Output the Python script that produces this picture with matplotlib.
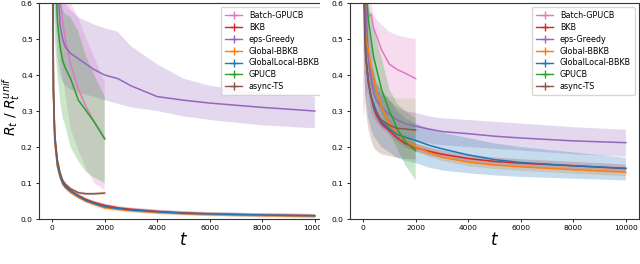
import matplotlib
matplotlib.use("Agg")
import matplotlib.pyplot as plt
from matplotlib.lines import Line2D
from matplotlib.patches import Rectangle


# time grids (x axis)
T_LONG = [0, 50, 100, 200, 300, 400, 500, 700, 1000, 1300, 1600, 2000,
          2500, 3000, 4000, 5000, 6000, 8000, 10000]
T_SHORT = [0, 50, 100, 200, 300, 400, 500, 700, 1000, 1300, 1600, 2000]

LABELS = ["Batch-GPUCB", "BKB", "eps-Greedy", "Global-BBKB",
          "GlobalLocal-BBKB", "GPUCB", "async-TS"]
COLORS = ["tab:pink", "tab:red", "tab:purple", "tab:orange",
          "tab:blue", "tab:green", "tab:brown"]

# ---- left panel: mean, lower, upper ----
L_BATCH = [1.5, 1.1, 0.9, 0.72, 0.62, 0.55, 0.5, 0.43, 0.36, 0.31, 0.27, 0.225]
L_BATCH_LO = [1.2, 0.8, 0.65, 0.55, 0.45, 0.4, 0.35, 0.25, 0.19, 0.14, 0.1, 0.08]
L_BATCH_HI = [1.8, 1.3, 1.1, 0.8, 0.7, 0.65, 0.62, 0.6, 0.56, 0.5, 0.45, 0.38]

L_BKB = [1.0, 0.36, 0.23, 0.155, 0.123, 0.103, 0.092, 0.079, 0.065, 0.054, 0.046,
         0.038, 0.031, 0.027, 0.021, 0.017, 0.014, 0.011, 0.009]
L_GLOBAL = [1.0, 0.34, 0.215, 0.145, 0.116, 0.097, 0.087, 0.074, 0.06, 0.049, 0.041,
            0.031, 0.027, 0.023, 0.018, 0.015, 0.013, 0.01, 0.008]
L_GLOCAL = [1.0, 0.35, 0.22, 0.15, 0.12, 0.1, 0.09, 0.077, 0.063, 0.051, 0.043,
            0.034, 0.029, 0.025, 0.02, 0.016, 0.014, 0.011, 0.009]

L_EPS = [2.0, 1.3, 0.95, 0.68, 0.54, 0.5, 0.478, 0.46, 0.445, 0.43, 0.415, 0.4,
         0.39, 0.37, 0.34, 0.33, 0.322, 0.31, 0.3]
L_EPS_LO = [1.8, 0.9, 0.6, 0.45, 0.4, 0.38, 0.37, 0.36, 0.35, 0.345, 0.34, 0.33,
            0.32, 0.31, 0.3, 0.285, 0.275, 0.26, 0.252]
L_EPS_HI = [2.2, 1.5, 1.1, 0.8, 0.68, 0.62, 0.6, 0.58, 0.56, 0.55, 0.54, 0.53,
            0.52, 0.48, 0.43, 0.39, 0.37, 0.35, 0.34]

L_GPUCB = [1.5, 1.0, 0.75, 0.55, 0.48, 0.44, 0.42, 0.39, 0.33, 0.3, 0.27, 0.222]
L_GPUCB_LO = [1.0, 0.7, 0.5, 0.4, 0.33, 0.28, 0.26, 0.2, 0.16, 0.13, 0.115, 0.1]
L_GPUCB_HI = [1.8, 1.3, 1.0, 0.7, 0.62, 0.58, 0.57, 0.56, 0.52, 0.45, 0.4, 0.34]

L_TS = [1.0, 0.36, 0.235, 0.165, 0.13, 0.108, 0.097, 0.084, 0.073, 0.07, 0.07, 0.072]

# ---- right panel ----
R_BATCH = [1.2, 0.65, 0.58, 0.56, 0.57, 0.53, 0.51, 0.47, 0.43, 0.415, 0.405, 0.39]
R_BATCH_LO = [0.28, 0.3, 0.34, 0.36, 0.36, 0.355, 0.35, 0.345, 0.34, 0.335, 0.335, 0.335]
R_BATCH_HI = [1.2, 0.8, 0.65, 0.6, 0.6, 0.57, 0.555, 0.54, 0.52, 0.51, 0.505, 0.5]

R_BKB = [1.0, 0.6, 0.45, 0.38, 0.34, 0.31, 0.29, 0.265, 0.245, 0.225, 0.21, 0.198,
         0.188, 0.18, 0.168, 0.16, 0.155, 0.148, 0.14]
R_GLOBAL = [1.0, 0.6, 0.5, 0.47, 0.42, 0.39, 0.36, 0.31, 0.265, 0.237, 0.217, 0.2,
            0.185, 0.172, 0.158, 0.15, 0.145, 0.137, 0.13]

R_GLOCAL = [1.0, 0.55, 0.45, 0.38, 0.34, 0.32, 0.3, 0.27, 0.25, 0.235, 0.227, 0.218,
            0.205, 0.195, 0.178, 0.165, 0.157, 0.148, 0.141]
R_GLOCAL_LO = [0.6, 0.4, 0.33, 0.28, 0.25, 0.23, 0.22, 0.2, 0.185, 0.17, 0.162, 0.155,
               0.143, 0.135, 0.127, 0.121, 0.117, 0.112, 0.107]
R_GLOCAL_HI = [1.4, 0.7, 0.57, 0.48, 0.43, 0.41, 0.38, 0.35, 0.33, 0.3, 0.28, 0.265,
               0.25, 0.24, 0.225, 0.21, 0.2, 0.185, 0.17]

R_EPS = [1.5, 0.9, 0.6, 0.45, 0.39, 0.35, 0.33, 0.31, 0.29, 0.275, 0.265, 0.258,
         0.25, 0.243, 0.237, 0.23, 0.225, 0.217, 0.212]
R_EPS_LO = [1.0, 0.6, 0.45, 0.35, 0.3, 0.28, 0.27, 0.255, 0.245, 0.235, 0.225, 0.215,
            0.21, 0.205, 0.2, 0.195, 0.19, 0.18, 0.173]
R_EPS_HI = [2.0, 1.2, 0.8, 0.6, 0.5, 0.42, 0.38, 0.36, 0.33, 0.31, 0.3, 0.295,
            0.285, 0.28, 0.275, 0.27, 0.265, 0.255, 0.248]

R_GPUCB = [1.3, 0.8, 0.65, 0.55, 0.5, 0.45, 0.42, 0.36, 0.3, 0.25, 0.215, 0.19]
R_GPUCB_LO = [0.8, 0.6, 0.5, 0.42, 0.38, 0.35, 0.33, 0.29, 0.24, 0.195, 0.15, 0.108]
R_GPUCB_HI = [1.6, 1.0, 0.8, 0.6, 0.56, 0.53, 0.5, 0.45, 0.36, 0.32, 0.3, 0.28]

R_TS = [1.0, 0.6, 0.45, 0.38, 0.34, 0.31, 0.295, 0.275, 0.26, 0.252, 0.25, 0.247]
R_TS_LO = [0.6, 0.4, 0.3, 0.25, 0.22, 0.2, 0.19, 0.18, 0.175, 0.17, 0.167, 0.165]
R_TS_HI = [1.2, 0.8, 0.6, 0.48, 0.42, 0.38, 0.36, 0.345, 0.34, 0.335, 0.335, 0.335]

# half widths of the narrow bands
NARROW_LEFT = 0.005
NARROW_RIGHT = 0.011


def band(ax, t, mean, lo, hi, color):
    ax.fill_between(t, lo, hi, color=color, alpha=0.25, linewidth=0)
    ax.plot(t, mean, color=color, lw=1.1)


def narrow(ax, t, mean, half, color):
    lo = [m - half for m in mean]
    hi = [m + half for m in mean]
    band(ax, t, mean, lo, hi, color)


def style(ax):
    ax.set_xlim(-500, 10500)
    ax.set_ylim(0, 0.6)
    ax.set_xticks([0, 2000, 4000, 6000, 8000, 10000])
    ax.set_yticks([0.0, 0.1, 0.2, 0.3, 0.4, 0.5, 0.6])
    ax.tick_params(labelsize=5.4, length=2.5, width=0.6, pad=2)
    for sp in ax.spines.values():
        sp.set_linewidth(0.8)
        sp.set_color("#333333")
    ax.set_xlabel("$t$", fontsize=12, labelpad=0)
    handles = [Line2D([], [], color=c, marker="+", markersize=6, lw=1.0)
               for c in COLORS]
    ax.legend(handles, LABELS, loc="upper right", fontsize=5.8,
              handlelength=2.2, labelspacing=0.35, borderpad=0.5)


fig = plt.figure(figsize=(6.4, 2.64), dpi=100)
ax1 = fig.add_axes([39 / 640, 45 / 264, 289 / 640, 216 / 264])
ax2 = fig.add_axes([350 / 640, 45 / 264, 289 / 640, 216 / 264])
ax1.set_zorder(0)
ax2.set_zorder(2)

# left panel
band(ax1, T_SHORT, L_BATCH, L_BATCH_LO, L_BATCH_HI, COLORS[0])
narrow(ax1, T_LONG, L_BKB, NARROW_LEFT, COLORS[1])
band(ax1, T_LONG, L_EPS, L_EPS_LO, L_EPS_HI, COLORS[2])
narrow(ax1, T_LONG, L_GLOBAL, NARROW_LEFT, COLORS[3])
narrow(ax1, T_LONG, L_GLOCAL, NARROW_LEFT, COLORS[4])
band(ax1, T_SHORT, L_GPUCB, L_GPUCB_LO, L_GPUCB_HI, COLORS[5])
narrow(ax1, T_SHORT, L_TS, 0.004, COLORS[6])
style(ax1)
ax1.set_ylabel("$R_t$ / $R_t^{unif}$", fontsize=10)
ax1.yaxis.set_label_coords(-0.058, 0.52)

# right panel
band(ax2, T_SHORT, R_BATCH, R_BATCH_LO, R_BATCH_HI, COLORS[0])
narrow(ax2, T_LONG, R_BKB, NARROW_RIGHT, COLORS[1])
band(ax2, T_LONG, R_EPS, R_EPS_LO, R_EPS_HI, COLORS[2])
narrow(ax2, T_LONG, R_GLOBAL, NARROW_RIGHT, COLORS[3])
band(ax2, T_LONG, R_GLOCAL, R_GLOCAL_LO, R_GLOCAL_HI, COLORS[4])
band(ax2, T_SHORT, R_GPUCB, R_GPUCB_LO, R_GPUCB_HI, COLORS[5])
band(ax2, T_SHORT, R_TS, R_TS_LO, R_TS_HI, COLORS[6])
style(ax2)

# the two plots were pasted side by side: the left one is cut at x=320
fig.add_artist(Rectangle((320 / 640, 0), 30 / 640, 1, transform=fig.transFigure,
                         facecolor="white", edgecolor="none", zorder=1))

fig.savefig("out.png", dpi=100)
